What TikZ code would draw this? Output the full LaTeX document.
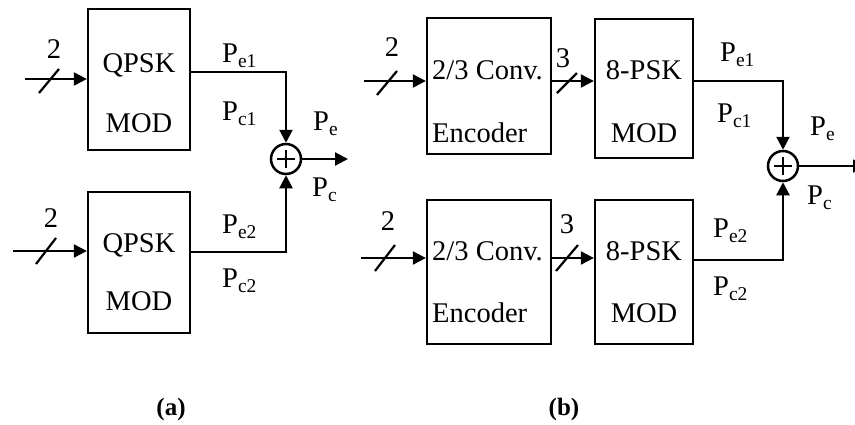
\documentclass[tikz,border=0pt]{standalone}
\usepackage{fontspec}
\setmainfont{Liberation Serif}
\usetikzlibrary{arrows.meta}
\newcommand{\Psub}[1]{P\raisebox{-5.5pt}{\fontsize{19.5}{19.5}\selectfont #1}}
\begin{document}
\begin{tikzpicture}[x=1pt,y=-1pt,
  blk/.style={draw, line width=2.3pt, inner sep=0pt},
  wire/.style={line width=2.2pt},
  arr/.style={wire, -{Triangle[length=13pt,width=13pt]}},
  txt/.style={font=\fontsize{28.5}{30}\selectfont, inner sep=0pt, anchor=base},
  ltxt/.style={font=\fontsize{28.5}{30}\selectfont, inner sep=0pt, anchor=base west},
  captxt/.style={font=\fontsize{25}{27}\selectfont\bfseries, inner sep=0pt, anchor=base},
  sum/.style={circle, draw, line width=2.5pt, minimum size=30pt, inner sep=0pt}]
\useasboundingbox (0,0) rectangle (855,424);

% ---------- (a) ----------
\node[blk, minimum width=102pt, minimum height=141pt] (qa1) at (139,79.5) {};
\node[blk, minimum width=102pt, minimum height=141pt] (qa2) at (139,262.5) {};
\node[txt] (qa1t) at (139,72) {QPSK};
\node[txt] (qa1b) at (139,132) {MOD};
\node[txt] (qa2t) at (139,252) {QPSK};
\node[txt] (qa2b) at (139,310) {MOD};

\coordinate (ia1) at (25,79);
\coordinate (ia2) at (13,251);
\draw[arr] (ia1) -- (qa1.west |- ia1);
\draw[arr] (ia2) -- (qa2.west |- ia2);
\coordinate (sla1) at (49,81);
\coordinate (sla2) at (46,251);
\draw[wire] ([xshift=-10pt,yshift=-12pt]sla1) -- ([xshift=10pt,yshift=12pt]sla1);
\draw[wire] ([xshift=-10pt,yshift=-13pt]sla2) -- ([xshift=10pt,yshift=13pt]sla2);
\node[txt] (na1) at (54,58) {2};
\node[txt] (na2) at (51,227) {2};

\node[sum] (sa) at (286,159) {};
\draw[wire, line width=2.6pt] ([xshift=-9pt]sa.center) -- ([xshift=9pt]sa.center);
\draw[wire, line width=2.6pt] ([yshift=-9pt]sa.center) -- ([yshift=9pt]sa.center);
\coordinate (ta1) at (286,72);
\coordinate (ba1) at (286,252);
\coordinate (oa) at (348,159);
\draw[arr] (qa1.east |- ta1) -- (ta1) -- (sa.north);
\draw[arr] (qa2.east |- ba1) -- (ba1) -- (sa.south);
\draw[arr] (sa.east) -- (oa);

\node[ltxt] (pea1) at (222,62) {\Psub{e1}};
\node[ltxt] (pca1) at (222,120) {\Psub{c1}};
\node[ltxt] (pea) at (313,130) {\Psub{e}};
\node[ltxt] (pca) at (312,196) {\Psub{c}};
\node[ltxt] (pea2) at (222,233) {\Psub{e2}};
\node[ltxt] (pca2) at (222,287) {\Psub{c2}};

% ---------- (b) ----------
\node[blk, minimum width=124pt, minimum height=136pt] (eb1) at (489,86) {};
\node[blk, minimum width=98pt, minimum height=139pt] (mb1) at (644,88.5) {};
\node[blk, minimum width=124pt, minimum height=144pt] (eb2) at (489,272) {};
\node[blk, minimum width=98pt, minimum height=144pt] (mb2) at (644,272) {};
\node[ltxt] (eb1t) at (432,79) {2/3 Conv.};
\node[ltxt] (eb1b) at (432,142) {Encoder};
\node[txt] (mb1t) at (644,79) {8-PSK};
\node[txt] (mb1b) at (644,142) {MOD};
\node[ltxt] (eb2t) at (432,260) {2/3 Conv.};
\node[ltxt] (eb2b) at (432,322) {Encoder};
\node[txt] (mb2t) at (644,260) {8-PSK};
\node[txt] (mb2b) at (644,322) {MOD};

\coordinate (ib1) at (364,81);
\coordinate (ib2) at (361,258);
\draw[arr] (ib1) -- (eb1.west |- ib1);
\draw[arr] (ib2) -- (eb2.west |- ib2);
\draw[arr] (eb1.east |- ib1) -- (mb1.west |- ib1);
\draw[arr] (eb2.east |- ib2) -- (mb2.west |- ib2);
\coordinate (slb1) at (387,83);
\coordinate (slb2) at (385,258);
\coordinate (slb3) at (567,83);
\coordinate (slb4) at (567,258);
\draw[wire] ([xshift=-10pt,yshift=-12pt]slb1) -- ([xshift=10pt,yshift=12pt]slb1);
\draw[wire] ([xshift=-10pt,yshift=-13pt]slb2) -- ([xshift=10pt,yshift=13pt]slb2);
\draw[wire] ([xshift=-10pt,yshift=-10pt]slb3) -- ([xshift=10pt,yshift=10pt]slb3);
\draw[wire] ([xshift=-11pt,yshift=-13pt]slb4) -- ([xshift=11pt,yshift=13pt]slb4);
\node[txt] (nb1) at (392,56) {2};
\node[txt] (nb2) at (388,230) {2};
\node[txt] (nb3) at (563,67) {3};
\node[txt] (nb4) at (567,233) {3};

\node[sum] (sb) at (783,166) {};
\draw[wire, line width=2.6pt] ([xshift=-9pt]sb.center) -- ([xshift=9pt]sb.center);
\draw[wire, line width=2.6pt] ([yshift=-9pt]sb.center) -- ([yshift=9pt]sb.center);
\coordinate (tb1) at (783,81);
\coordinate (bb1) at (783,260);
\coordinate (ob) at (866,166);
\draw[arr] (mb1.east |- tb1) -- (tb1) -- (sb.north);
\draw[arr] (mb2.east |- bb1) -- (bb1) -- (sb.south);
\draw[arr, line width=1.8pt] (sb.east) -- (ob);

\node[ltxt] (peb1) at (720,61) {\Psub{e1}};
\node[ltxt] (pcb1) at (717,122) {\Psub{c1}};
\node[ltxt] (peb) at (810,135) {\Psub{e}};
\node[ltxt] (pcb) at (807,204) {\Psub{c}};
\node[ltxt] (peb2) at (713,237) {\Psub{e2}};
\node[ltxt] (pcb2) at (713,295) {\Psub{c2}};

% captions
\node[captxt] (capa) at (171,415) {(a)};
\node[captxt] (capb) at (564,415) {(b)};
\end{tikzpicture}
\end{document}
